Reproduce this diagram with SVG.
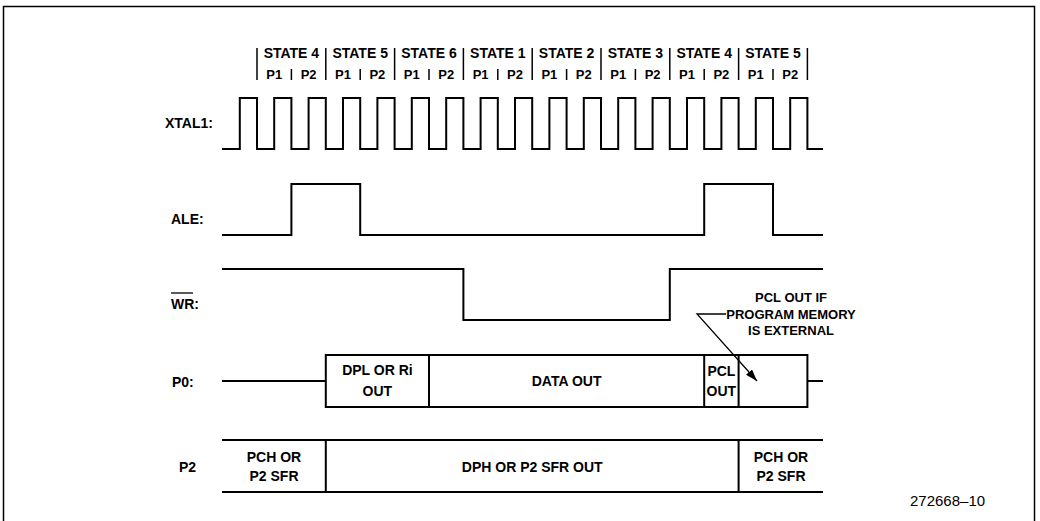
<svg xmlns="http://www.w3.org/2000/svg" width="1040" height="521" viewBox="0 0 1040 521">
<style>
text{font-family:"Liberation Sans",Arial,sans-serif;font-weight:bold;fill:#000}
.h{font-size:14px;text-anchor:middle}
.p{font-size:13px;text-anchor:middle}
.lbl{font-size:14px}
.c{font-size:14px;text-anchor:middle}
.a{font-size:13px;text-anchor:middle}
.w{fill:none;stroke:#000;stroke-width:2;stroke-linejoin:miter}
.bar{stroke:#000;stroke-width:1.5}
.num{font-family:"Liberation Sans",Arial,sans-serif;font-weight:normal;font-size:15px}
</style>
<defs>
<marker id="ah" viewBox="0 0 12 8" refX="12" refY="4" markerWidth="12" markerHeight="8" markerUnits="userSpaceOnUse" orient="auto">
<path d="M0,0 L12,4 L0,8 Z" fill="#000"/>
</marker>
</defs>
<rect x="3.5" y="6.5" width="1031" height="522" fill="#fff" stroke="#000" stroke-width="1.5"/>
<g id="header">
<g class="bar">
<line x1="257" y1="48" x2="257" y2="80"/><line x1="325.8" y1="48" x2="325.8" y2="80"/><line x1="394.6" y1="48" x2="394.6" y2="80"/><line x1="463.4" y1="48" x2="463.4" y2="80"/><line x1="532.2" y1="48" x2="532.2" y2="80"/><line x1="601" y1="48" x2="601" y2="80"/><line x1="669.8" y1="48" x2="669.8" y2="80"/><line x1="738.6" y1="48" x2="738.6" y2="80"/><line x1="807.4" y1="48" x2="807.4" y2="80"/>
<line x1="291.4" y1="69" x2="291.4" y2="80"/><line x1="360.2" y1="69" x2="360.2" y2="80"/><line x1="429" y1="69" x2="429" y2="80"/><line x1="497.8" y1="69" x2="497.8" y2="80"/><line x1="566.6" y1="69" x2="566.6" y2="80"/><line x1="635.4" y1="69" x2="635.4" y2="80"/><line x1="704.2" y1="69" x2="704.2" y2="80"/><line x1="773" y1="69" x2="773" y2="80"/>
</g>
<text class="h" x="291.4" y="58">STATE 4</text>
<text class="h" x="360.2" y="58">STATE 5</text>
<text class="h" x="429" y="58">STATE 6</text>
<text class="h" x="497.8" y="58">STATE 1</text>
<text class="h" x="566.6" y="58">STATE 2</text>
<text class="h" x="635.4" y="58">STATE 3</text>
<text class="h" x="704.2" y="58">STATE 4</text>
<text class="h" x="773" y="58">STATE 5</text>
<text class="p" x="274.2" y="79">P1</text><text class="p" x="308.6" y="79">P2</text>
<text class="p" x="343" y="79">P1</text><text class="p" x="377.4" y="79">P2</text>
<text class="p" x="411.8" y="79">P1</text><text class="p" x="446.2" y="79">P2</text>
<text class="p" x="480.6" y="79">P1</text><text class="p" x="515" y="79">P2</text>
<text class="p" x="549.4" y="79">P1</text><text class="p" x="583.8" y="79">P2</text>
<text class="p" x="618.2" y="79">P1</text><text class="p" x="652.6" y="79">P2</text>
<text class="p" x="687" y="79">P1</text><text class="p" x="721.4" y="79">P2</text>
<text class="p" x="755.8" y="79">P1</text><text class="p" x="790.2" y="79">P2</text>
</g>
<g id="xtal1">
<text class="lbl" x="165" y="128">XTAL1:</text>
<path class="w" d="M222,149 H239.8 V98 H257 V149 H274.2 V98 H291.4 V149 H308.6 V98 H325.8 V149 H343 V98 H360.2 V149 H377.4 V98 H394.6 V149 H411.8 V98 H429 V149 H446.2 V98 H463.4 V149 H480.6 V98 H497.8 V149 H515 V98 H532.2 V149 H549.4 V98 H566.6 V149 H583.8 V98 H601 V149 H618.2 V98 H635.4 V149 H652.6 V98 H669.8 V149 H687 V98 H704.2 V149 H721.4 V98 H738.6 V149 H755.8 V98 H773 V149 H790.2 V98 H807.4 V149 H823"/>
</g>
<g id="ale">
<text class="lbl" x="171" y="224">ALE:</text>
<path class="w" d="M222,235 H291.4 V184 H360.2 V235 H704.2 V184 H773 V235 H823"/>
</g>
<g id="wr">
<text class="lbl" x="171" y="309">WR:</text>
<line x1="171" y1="293" x2="193" y2="293" stroke="#000" stroke-width="1.3"/>
<path class="w" d="M222,269 H463.4 V320 H669.8 V269 H823"/>
</g>
<g id="p0">
<text class="lbl" x="172" y="387">P0:</text>
<path class="w" d="M222,381 H325.8 M807.4,381 H823"/>
<rect class="w" x="325.8" y="355" width="481.6" height="52"/>
<path class="w" d="M429,355 V407 M704.2,355 V407 M738.6,355 V407"/>
<text class="c" x="377.4" y="375">DPL OR Ri</text>
<text class="c" x="377.4" y="396">OUT</text>
<text class="c" x="566.6" y="386">DATA OUT</text>
<text class="c" x="721.4" y="376">PCL</text>
<text class="c" x="721.4" y="396">OUT</text>
</g>
<g id="note">
<text class="a" x="791" y="302">PCL OUT IF</text>
<text class="a" x="791" y="319">PROGRAM MEMORY</text>
<text class="a" x="791" y="335">IS EXTERNAL</text>
</g>
<g id="p2">
<text class="lbl" x="179" y="472">P2</text>
<path class="w" d="M222,440 H823 M222,492 H823 M325.8,440 V492 M738.6,440 V492"/>
<text class="c" x="274" y="462">PCH OR</text>
<text class="c" x="274" y="481">P2 SFR</text>
<text class="c" x="532.2" y="472">DPH OR P2 SFR OUT</text>
<text class="c" x="781" y="462">PCH OR</text>
<text class="c" x="781" y="481">P2 SFR</text>
</g>
<g id="connectors">
<polyline points="726,314 697,314 757,381" fill="none" stroke="#000" stroke-width="1.3" marker-end="url(#ah)"/>
</g>
<text class="num" x="910" y="506">272668–10</text>
</svg>
